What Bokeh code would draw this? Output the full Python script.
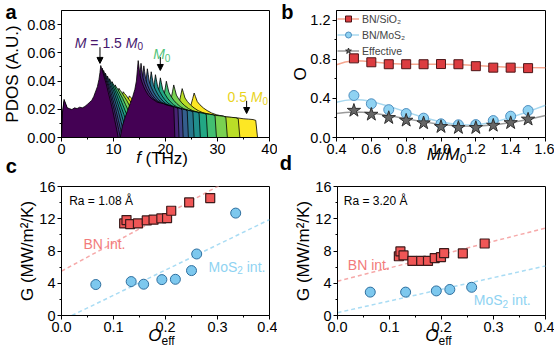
import json
from bokeh.plotting import figure
from bokeh.models import (Label, Arrow, NormalHead, Legend, LegendItem, FixedTicker,
                          Range1d, NumeralTickFormatter, LinearAxis, CustomJSTickFormatter)
from bokeh.layouts import column, row
from bokeh.embed import file_html
from bokeh.resources import INLINE
from bokeh.palettes import viridis

FONT = "Liberation Sans"

# ---------------- panel a data ----------------
masses = [1.5, 1.4, 1.3, 1.2, 1.1, 1.0, 0.9, 0.8, 0.7, 0.6, 0.5]
cutoffs = [21.8, 22.6, 23.4, 24.4, 25.5, 26.7, 28.1, 29.8, 31.9, 34.3, 37.7]   # THz, read per curve
base_f = [0.0, 0.2, 0.5, 0.8, 1.1, 1.5, 2.0, 2.5, 3.0, 3.5, 4.0, 4.5, 5.0, 5.4, 5.8, 6.2, 6.6,
          6.9, 7.2, 7.4, 7.55, 7.7, 7.9, 8.2, 8.6, 9.0, 9.4, 9.8, 10.2, 10.6, 10.9, 11.3, 11.7,
          12.2, 12.7, 13.2, 13.7, 14.1, 14.4, 14.6, 14.75, 14.9, 15.1, 15.4, 15.8, 16.2, 16.7,
          17.2, 17.8, 18.4, 19.0, 19.6, 20.2, 20.8, 21.3, 21.6, 21.8]
base_pdos = [0.0, 0.018, 0.027, 0.024, 0.021, 0.0205, 0.0198, 0.021, 0.0205, 0.0215, 0.021,
             0.022, 0.0235, 0.025, 0.0262, 0.029, 0.033, 0.036, 0.041, 0.046, 0.051, 0.049,
             0.047, 0.043, 0.038, 0.032, 0.026, 0.020, 0.013, 0.006, 0.0, 0.0, 0.008, 0.014,
             0.019, 0.024, 0.029, 0.034, 0.040, 0.048, 0.0545, 0.050, 0.044, 0.040, 0.036,
             0.033, 0.030, 0.028, 0.0265, 0.025, 0.0245, 0.024, 0.023, 0.0225, 0.022, 0.021, 0.0]
arrow_x = [7.4, 19.0, 35.6]
arrow_top = [0.064, 0.057, 0.026]
arrow_tip = [0.0525, 0.0475, 0.017]

# ---------------- panel b data ----------------
m_ratio = [0.5, 0.6, 0.7, 0.8, 0.9, 1.0, 1.1, 1.2, 1.3, 1.4, 1.5]
o_sio2 = [0.81, 0.77, 0.75, 0.75, 0.75, 0.752, 0.75, 0.73, 0.715, 0.715, 0.71]
o_mos2 = [0.43, 0.345, 0.285, 0.245, 0.198, 0.14, 0.13, 0.132, 0.173, 0.218, 0.276]
o_eff = [0.276, 0.236, 0.202, 0.175, 0.148, 0.11, 0.1, 0.1, 0.123, 0.15, 0.186]
fit_x = [0.4, 0.45, 0.5, 0.55, 0.6, 0.7, 0.8, 0.9, 1.0, 1.1, 1.2, 1.3, 1.4, 1.5, 1.6]
fit_sio2 = [0.745, 0.772, 0.785, 0.783, 0.775, 0.757, 0.750, 0.750, 0.750, 0.747, 0.738,
            0.728, 0.720, 0.716, 0.713]
fit_mos2 = [0.36, 0.38, 0.39, 0.385, 0.37, 0.32, 0.262, 0.205, 0.158, 0.130, 0.128, 0.155,
            0.205, 0.265, 0.33]
fit_eff = [0.245, 0.255, 0.26, 0.258, 0.25, 0.225, 0.193, 0.16, 0.133, 0.117, 0.115, 0.128,
           0.152, 0.185, 0.225]

# ---------------- panel c data ----------------
c_bn_o = [0.1205, 0.125, 0.132, 0.147, 0.164, 0.177, 0.192, 0.203, 0.211, 0.2455, 0.286]
c_bn_g = [11.42, 11.84, 11.34, 11.42, 11.79, 11.88, 12.04, 12.08, 12.99, 14.02, 14.56]
c_mos_o = [0.066, 0.134, 0.158, 0.193, 0.219, 0.25, 0.26, 0.335]
c_mos_g = [3.84, 4.21, 3.88, 4.45, 4.49, 5.57, 7.63, 12.7]
c_bn_fit_o = [0.0, 0.4]
c_bn_fit_g = [5.5, 19.5]
c_mos_fit_o = [0.02, 0.4]
c_mos_fit_g = [0.0, 11.9]

# ---------------- panel d data ----------------
d_bn_o = [0.118, 0.121, 0.127, 0.144, 0.161, 0.174, 0.187, 0.199, 0.205, 0.241, 0.283]
d_bn_g = [7.35, 7.95, 7.45, 6.77, 6.77, 6.77, 7.12, 7.25, 7.73, 7.7, 8.93]
d_mos_o = [0.063, 0.131, 0.19, 0.216, 0.258]
d_mos_g = [2.9, 2.9, 3.05, 3.23, 3.5]
d_bn_fit_o = [0.0, 0.4]
d_bn_fit_g = [4.25, 10.85]
d_mos_fit_o = [0.0, 0.4]
d_mos_fit_g = [0.35, 6.15]

# ---------------- helpers ----------------
WID = {' ': 278, '\u00a0': 278, '(': 333, ')': 333, '.': 278, '/': 278, '=': 584, 'A': 667,
       'B': 667, 'G': 778, 'H': 722, 'K': 667, 'M': 833, 'N': 722, 'O': 778, 'R': 722,
       'S': 667, 'T': 611, 'U': 722, 'W': 944, 'a': 556, 'e': 556, 'f': 278, 'i': 222,
       'm': 833, 'n': 556, 'o': 556, 't': 278, 'z': 500, 'Å': 667, 'b': 611, 'c': 556,
       'd': 611}
TICK_FS = 14.5
AXL_FS = 17


def tw(s, size):
    return sum(WID.get(ch, 556) for ch in s) / 1000.0 * size


def make_fig(ox, oy, w, h, frame, xr, yr, ylab, ylab_standoff):
    l, r, t, b = frame
    p = figure(width=w, height=h, x_range=Range1d(*xr), y_range=Range1d(*yr),
               output_backend="svg", toolbar_location=None,
               min_border_left=l - ox, min_border_right=ox + w - r,
               min_border_top=t - oy, min_border_bottom=oy + h - b)
    p.grid.visible = False
    p.outline_line_color = "black"
    p.outline_line_width = 1
    p.outline_line_alpha = 1
    p.background_fill_color = "white"
    p.border_fill_color = "white"
    for ax in (p.xaxis[0], p.yaxis[0]):
        ax.major_label_text_font = FONT
        ax.major_label_text_font_size = f"{TICK_FS}px"
        ax.major_label_text_color = "black"
        ax.axis_line_color = "black"
        ax.major_tick_line_color = "black"
        ax.minor_tick_line_color = "black"
        ax.major_tick_out = 4
        ax.major_tick_in = 0
        ax.minor_tick_out = 2
        ax.minor_tick_in = 0
        ax.major_label_standoff = 2
        ax.axis_label_text_font = FONT
        ax.axis_label_text_font_size = f"{AXL_FS}px"
        ax.axis_label_text_font_style = "normal"
        ax.axis_label_text_color = "black"
    p.yaxis.axis_label = ylab
    p.yaxis.axis_label_standoff = ylab_standoff
    p._frame = frame
    return p


def to_data(p, x_abs, y_abs):
    l, r, t, b = p._frame
    xr, yr = p.x_range, p.y_range
    xd = xr.start + (x_abs - l) / (r - l) * (xr.end - xr.start)
    yd = yr.start + (b - y_abs) / (b - t) * (yr.end - yr.start)
    return xd, yd


def side_text(p, side, tick, text, size, style, color, standoff):
    ax = LinearAxis(ticker=FixedTicker(ticks=[tick], minor_ticks=[]),
                    formatter=CustomJSTickFormatter(code="return %s;" % json.dumps(text)),
                    major_label_standoff=int(standoff),
                    major_tick_out=0, major_tick_in=0, minor_tick_out=0, minor_tick_in=0,
                    axis_line_color=None, major_tick_line_color=None,
                    minor_tick_line_color=None,
                    major_label_text_font=FONT, major_label_text_font_size=f"{size}px",
                    major_label_text_font_style=style, major_label_text_color=color)
    p.add_layout(ax, side)


def below_runs(p, xcenter, runs):
    """runs: (text, size, style, color, standoff) laid out left to right, centred on xcenter;
    each run is a one-tick axis stacked below the frame"""
    l, r, t, b = p._frame
    total = sum(tw(tx, s) for tx, s, *_ in runs)
    cx = xcenter - total / 2.0
    for text, size, style, color, so in runs:
        lead = len(text) - len(text.lstrip(' '))
        core = text.strip(' ')
        sx = cx + tw(' ' * lead, size)
        xd, _ = to_data(p, sx + tw(core, size) / 2.0, b)
        side_text(p, "below", xd, core, size, style, color, so)
        cx += tw(text, size)


def letter_left(p, base, text, standoff, size=20):
    l, r, t, b = p._frame
    _, yd = to_data(p, l, base - 7.0)
    yd = min(yd, p.y_range.end)
    side_text(p, "left", yd, text, size, "bold", "black", standoff)


def letter_below(p, text, pad, standoff, size=20):
    """bold panel letter left of the frame: centred text padded with no-break spaces"""
    l, r, t, b = p._frame
    xd, _ = to_data(p, l + 0.5, b)
    side_text(p, "below", xd, text + '\u00a0' * pad, size, "bold", "black", standoff)


def put(p, x, y, runs):
    """Text inside the frame; runs: (text, size, style, color, dy); abs px, alphabetic baseline."""
    l, r, t, b = p._frame
    cx = x
    for text, size, style, color, dy in runs:
        lead = len(text) - len(text.lstrip(' '))
        core = text.strip(' ')
        sx = cx + tw(' ' * lead, size)
        if core:
            p.add_layout(Label(x=sx - l, y=b - (y + dy), x_units="screen", y_units="screen",
                               text=core, text_font=FONT, text_font_size=f"{size}px",
                               text_font_style=style, text_color=color,
                               text_baseline="alphabetic", text_align="left"))
        cx += tw(text, size)


TOP_H = 180
BOT_H = 353 - TOP_H

# ---------------- panel a ----------------
pa = make_fig(0, 0, 277, TOP_H, (60, 269, 10, 137), (0, 40), (0, 0.09), "PDOS (A.U.)", 2)
pa.xaxis.ticker = FixedTicker(ticks=[0, 10, 20, 30, 40], minor_ticks=[5, 15, 25, 35])
pa.yaxis.ticker = FixedTicker(ticks=[0, 0.02, 0.04, 0.06, 0.08],
                              minor_ticks=[0.01, 0.03, 0.05, 0.07])
pa.xaxis.formatter = NumeralTickFormatter(format="0")
pa.yaxis.formatter = NumeralTickFormatter(format="0.00")

colors = viridis(len(masses))  # index 0 -> purple (1.5 M0)
for i in reversed(range(len(masses))):
    s = cutoffs[i] / cutoffs[0]
    xs = [f * s for f in base_f]
    ys = [v / s for v in base_pdos]
    pa.patch(xs, ys, fill_color=colors[i], line_color="black", line_width=0.8)

for xa, y0, y1 in zip(arrow_x, arrow_top, arrow_tip):
    pa.add_layout(Arrow(end=NormalHead(size=6, fill_color="black", line_color="black", line_width=1),
                        x_start=xa, y_start=y0, x_end=xa, y_end=y1,
                        line_color="black", line_width=1))

PURPLE, GREEN, YELLOW = "#47176e", "#52c47a", "#e9d31c"
put(pa, 73.3, 42, [("M", 14, "italic", PURPLE, 0), (" = 1.5 ", 14, "normal", PURPLE, 0),
                   ("M", 14, "italic", PURPLE, 0), ("0", 10, "normal", PURPLE, 3.5)])
put(pa, 151.7, 53.5, [("M", 14, "italic", GREEN, 0), ("0", 10, "normal", GREEN, 3.5)])
put(pa, 226, 96.5, [("0.5 ", 14, "normal", YELLOW, 0), ("M", 14, "italic", YELLOW, 0),
                    ("0", 10, "normal", YELLOW, 3.5)])
# stacked below the x axis: axis title runs, then the panel letter of c
below_runs(pa, 161, [("f", AXL_FS, "italic", "black", -9),
                     (" (THz)", AXL_FS, "normal", "black", -21)])
letter_below(pa, "c", 22, -16)
letter_left(pa, 17.5, "a", -16)

# ---------------- panel b ----------------
pb = make_fig(277, 0, 277, TOP_H, (336, 545, 10, 137), (0.4, 1.6), (0, 1.3), "O", -3)
pb.xaxis.ticker = FixedTicker(ticks=[0.4, 0.6, 0.8, 1.0, 1.2, 1.4, 1.6],
                              minor_ticks=[0.5, 0.7, 0.9, 1.1, 1.3, 1.5])
pb.yaxis.ticker = FixedTicker(ticks=[0, 0.4, 0.8, 1.2], minor_ticks=[0.2, 0.6, 1.0])
pb.xaxis.formatter = NumeralTickFormatter(format="0.0")
pb.yaxis.formatter = NumeralTickFormatter(format="0.0")

l1 = pb.line(fit_x, fit_sio2, line_color="#f5a58e", line_width=1.5)
l2 = pb.line(fit_x, fit_mos2, line_color="#a8d8ef", line_width=1.5)
l3 = pb.line(fit_x, fit_eff, line_color="#9a9a9a", line_width=1.5)
s1 = pb.scatter(m_ratio, o_sio2, marker="square", size=9, fill_color="#dc3c40",
                line_color="#4d1517", line_width=1)
s2 = pb.scatter(m_ratio, o_mos2, marker="circle", size=10, fill_color="#8fd2f2",
                line_color="#4f8fc0", line_width=1)
s3 = pb.scatter(m_ratio, o_eff, marker="star", size=14, fill_color="#666666",
                line_color="#2e2e2e", line_width=1)
leg = Legend(items=[LegendItem(label="BN/SiO₂", renderers=[l1, s1]),
                    LegendItem(label="BN/MoS₂", renderers=[l2, s2]),
                    LegendItem(label="Effective", renderers=[l3, s3])],
             location="top_left", margin=0, padding=1, spacing=1,
             glyph_width=22, glyph_height=15, label_height=15, label_standoff=3,
             label_text_font=FONT, label_text_font_size="10.5px",
             border_line_alpha=0, background_fill_alpha=0)
pb.add_layout(leg)
below_runs(pb, 446, [("M/M", AXL_FS, "italic", "black", -12),
                     ("0", 12, "normal", "black", -13)])
letter_below(pb, "d", 20, -15)
letter_left(pb, 17.5, "b", -5)

# ---------------- panels c, d ----------------
BN_TXT, MOS_TXT = "#f27b7b", "#8fd3f2"


def gpanel(ox, frame, bn_o, bn_g, mos_o, mos_g, bfo, bfg, mfo, mfg):
    p = make_fig(ox, TOP_H, 277, BOT_H, frame, (0, 0.4), (0, 16), "G (MW/m²/K)", -1)
    p.xaxis.ticker = FixedTicker(ticks=[0, 0.1, 0.2, 0.3, 0.4], minor_ticks=[0.05, 0.15, 0.25, 0.35])
    p.yaxis.ticker = FixedTicker(ticks=[0, 4, 8, 12, 16], minor_ticks=[2, 6, 10, 14])
    p.xaxis.formatter = NumeralTickFormatter(format="0.0")
    p.yaxis.formatter = NumeralTickFormatter(format="0")
    p.line(bfo, bfg, line_color="#f6a9a9", line_width=1.5, line_dash="4 3")
    p.line(mfo, mfg, line_color="#a9dcf4", line_width=1.5, line_dash="4 3")
    p.scatter(bn_o, bn_g, marker="square", size=9, fill_color="#f05656",
              line_color="#3d1a1a", line_width=1.2)
    p.scatter(mos_o, mos_g, marker="circle", size=10, fill_color="#7dc8ee",
              line_color="#2f6f9f", line_width=1)
    return p


pc = gpanel(0, (61, 269, 186, 315), c_bn_o, c_bn_g, c_mos_o, c_mos_g,
            c_bn_fit_o, c_bn_fit_g, c_mos_fit_o, c_mos_fit_g)
pd = gpanel(277, (337, 545, 186, 315), d_bn_o, d_bn_g, d_mos_o, d_mos_g,
            d_bn_fit_o, d_bn_fit_g, d_mos_fit_o, d_mos_fit_g)

put(pc, 68.7, 200.5, [("Ra = 1.08 Å", 12, "normal", "black", 0)])
put(pc, 83, 243, [("BN int.", 14, "normal", BN_TXT, 0)])
put(pc, 208, 266, [("MoS", 14, "normal", MOS_TXT, 0), ("2", 10, "normal", MOS_TXT, 3.5),
                   (" int.", 14, "normal", MOS_TXT, 0)])
below_runs(pc, 161, [("O", AXL_FS, "italic", "black", -9),
                     ("eff", 12, "normal", "black", -14)])

put(pd, 343.3, 200, [("Ra = 3.20 Å", 12, "normal", "black", 0)])
put(pd, 347.3, 264, [("BN int.", 14, "normal", BN_TXT, 0)])
put(pd, 473.3, 299.5, [("MoS", 14, "normal", MOS_TXT, 0), ("2", 10, "normal", MOS_TXT, 3.5),
                       (" int.", 14, "normal", MOS_TXT, 0)])
below_runs(pd, 438, [("O", AXL_FS, "italic", "black", -9),
                     ("eff", 12, "normal", "black", -14)])

layout = column(row(pa, pb), row(pc, pd))
open("out.html", "w").write(file_html(layout, INLINE))
